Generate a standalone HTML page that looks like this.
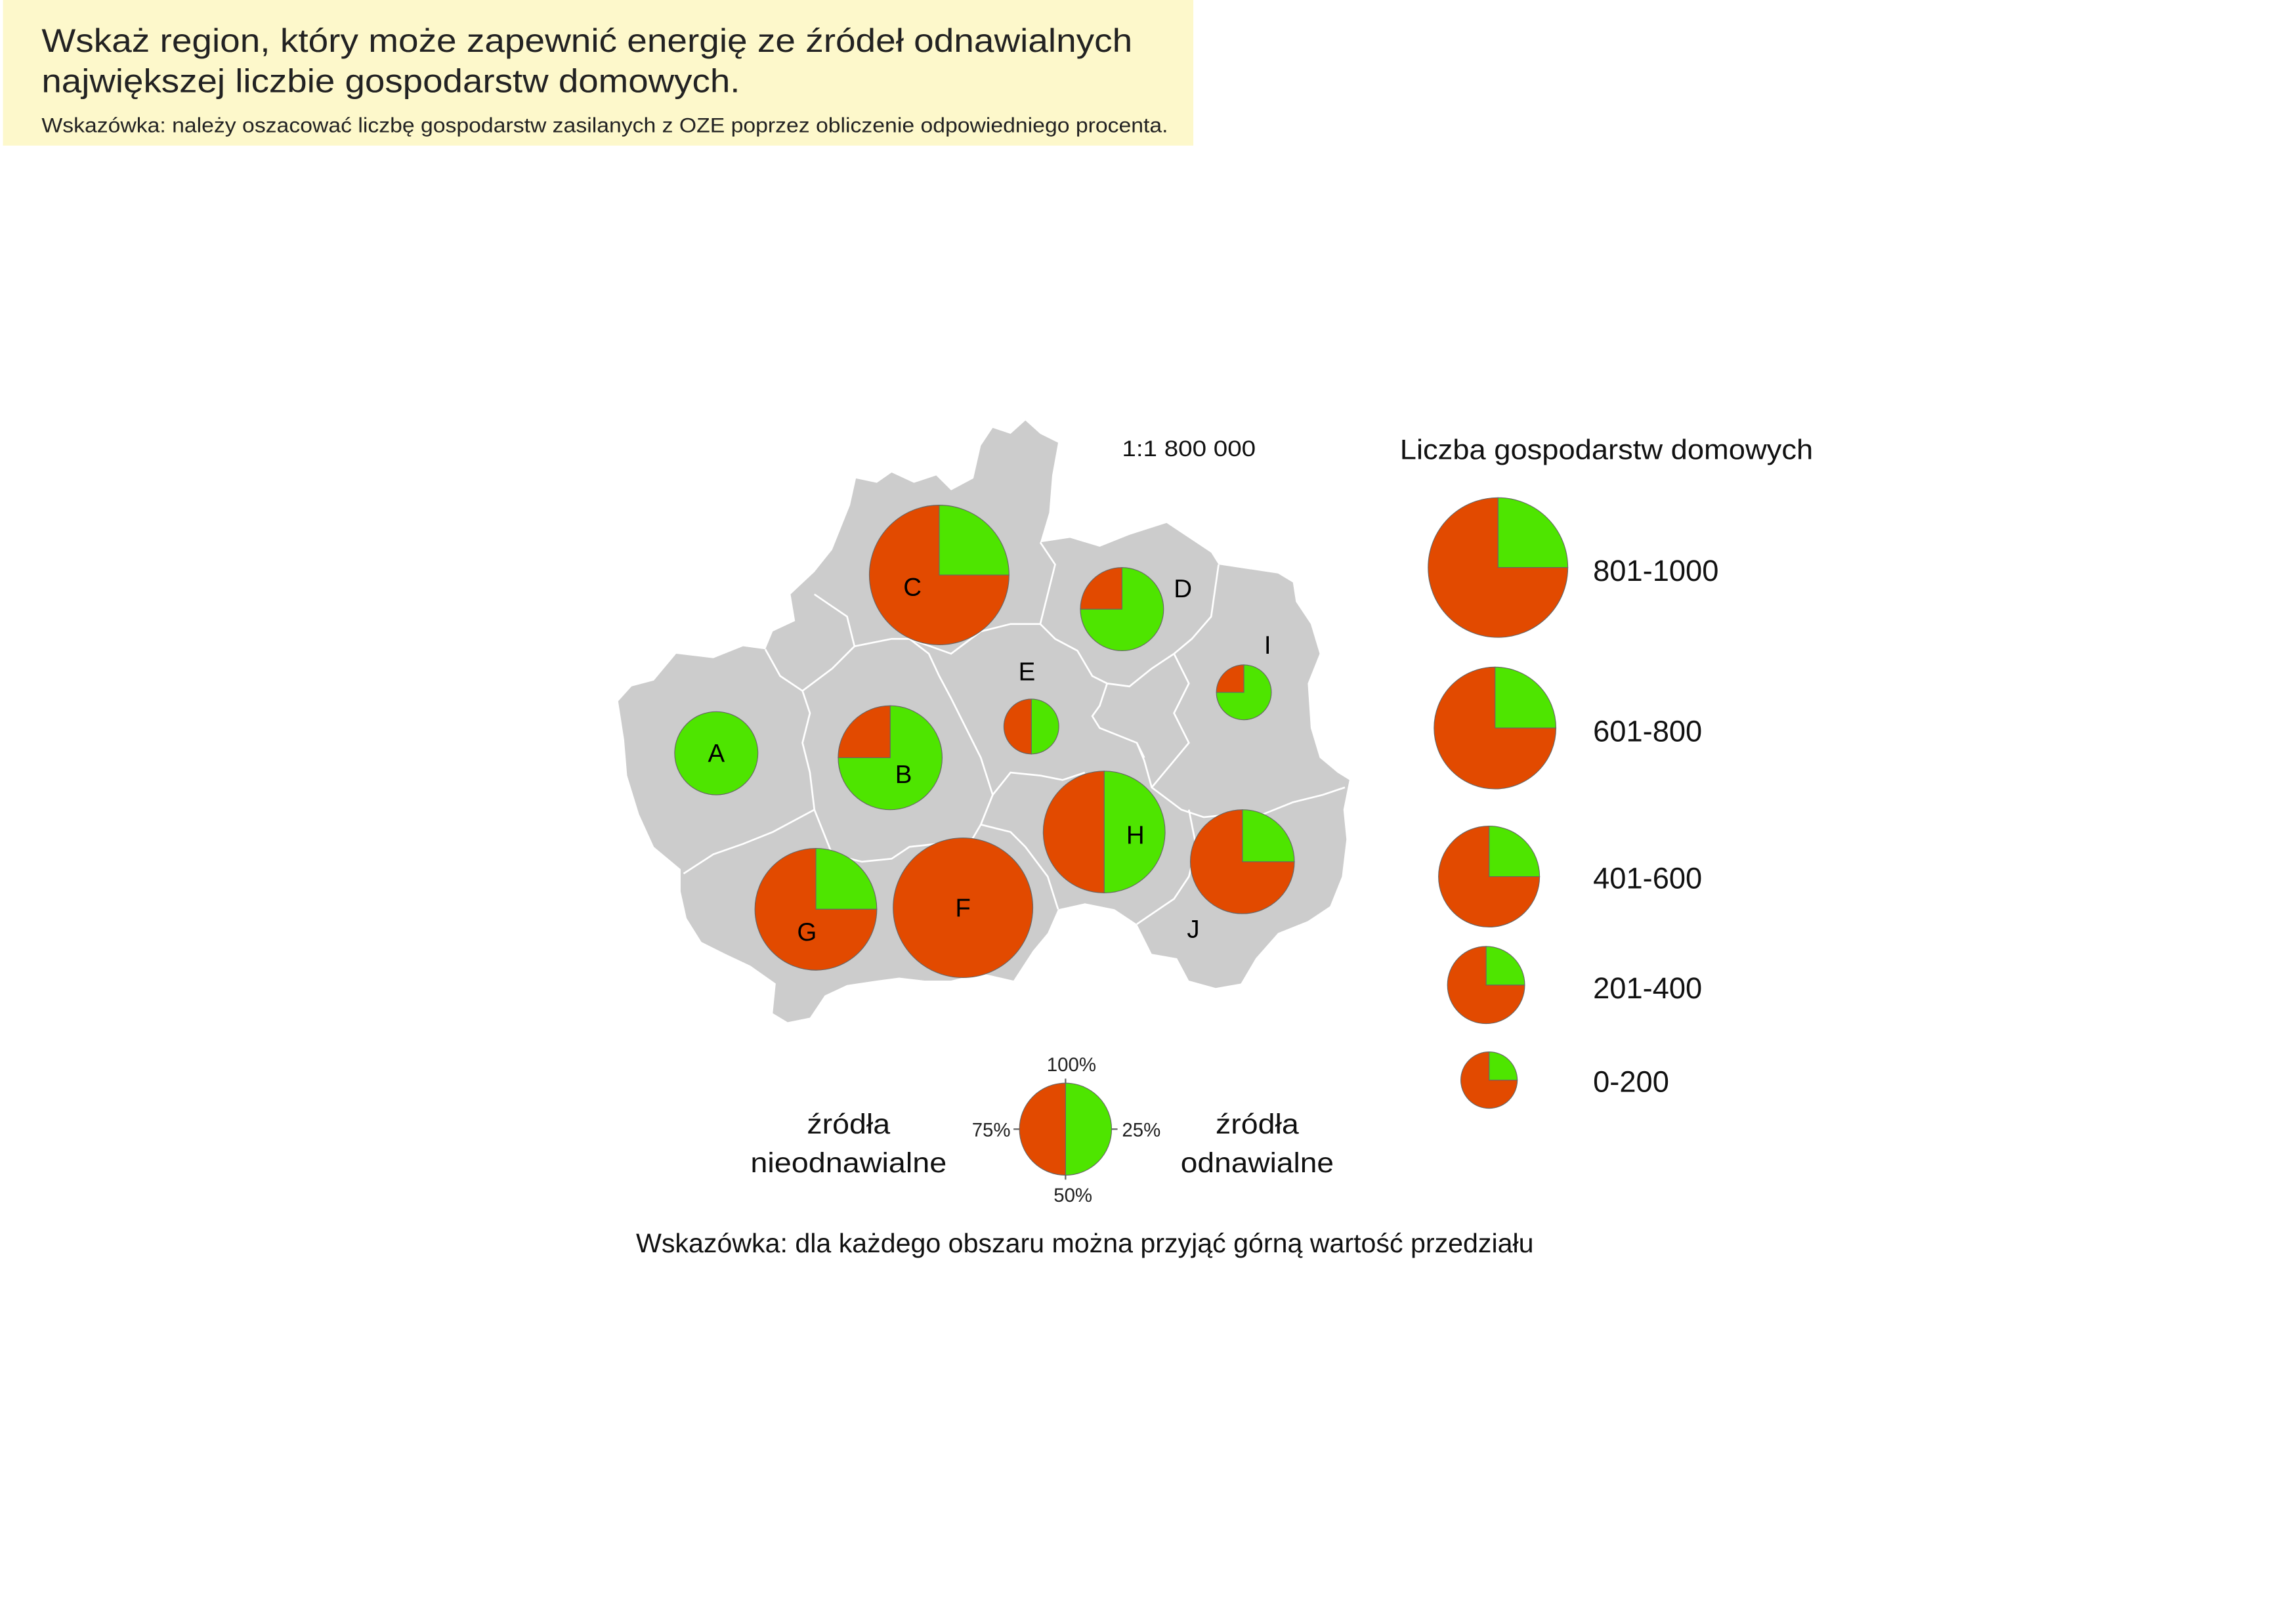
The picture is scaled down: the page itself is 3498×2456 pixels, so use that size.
<!DOCTYPE html>
<html><head><meta charset="utf-8">
<style>
html,body{margin:0;padding:0;background:#fff;}
svg{display:block;}
text{font-family:"Liberation Sans",sans-serif;}
</style></head>
<body>
<svg id="chart" width="3498" height="2456" viewBox="0 0 1545 1085" preserveAspectRatio="none" xmlns="http://www.w3.org/2000/svg">
<rect x="0" y="0" width="1545" height="1085" fill="#fff"/>
<g>
<rect x="2" y="0" width="801" height="98" fill="#fdf8cb"/>
<text x="28" y="35" font-size="22" fill="#222" textLength="734" lengthAdjust="spacingAndGlyphs">Wskaż region, który może zapewnić energię ze źródeł odnawialnych</text>
<text x="28" y="62" font-size="22" fill="#222" textLength="470" lengthAdjust="spacingAndGlyphs">największej liczbie gospodarstw domowych.</text>
<text x="28" y="89" font-size="14" fill="#222" textLength="758" lengthAdjust="spacingAndGlyphs">Wskazówka: należy oszacować liczbę gospodarstw zasilanych z OZE poprzez obliczenie odpowiedniego procenta.</text>
</g>
<g>
<path fill="#cccccc" d="M416,472 L425,462 L440,458 L455,440 L480,443 L500,435 L515,437 L520,425 L535,418 L532,400 L548,385 L560,370 L572,340 L576,322 L590,325 L600,318 L615,325 L630,320 L640,330 L655,322 L660,300 L668,288 L680,292 L690,283 L700,292 L712,298 L708,320 L706,345 L700,365 L720,362 L740,368 L760,360 L785,352 L800,362 L815,372 L820,380 L840,383 L860,386 L870,392 L872,405 L882,420 L888,440 L880,460 L882,490 L888,510 L900,520 L908,525 L904,545 L906,565 L903,590 L895,610 L880,620 L860,628 L845,645 L835,662 L818,665 L800,660 L792,645 L775,642 L765,622 L750,612 L730,608 L712,612 L705,628 L695,640 L682,660 L660,655 L640,660 L622,660 L605,658 L590,660 L570,663 L555,670 L545,685 L530,688 L520,682 L522,662 L505,650 L488,642 L472,634 L462,618 L458,600 L458,585 L440,570 L430,548 L422,522 L420,498 Z"/>
<g fill="none" stroke="#fff" stroke-width="1.2">
<path d="M515,437 L525,455 L540,465 L545,480 L540,500 L545,520 L548,545 L520,560 L500,568 L480,575 L460,588"/>
<path d="M540,465 L560,450 L575,435 L600,430 L612,430 L625,440 L632,455 L640,470 L650,490 L660,510 L668,535 L660,555 L650,572 L630,568 L612,570 L600,578 L580,580 L560,575 L548,545"/>
<path d="M575,435 L570,415 L548,400 M612,430 L640,440 L660,425 L680,420 L700,420 L710,430 L725,438 L735,455 L745,460 L760,462 L775,450 L790,440 L802,430 L815,415 L820,380"/>
<path d="M700,365 L710,380 L705,400 L700,420"/>
<path d="M745,460 L740,475 L735,482 L740,490 L765,500 L770,512 L775,530 L795,545 L810,550 L830,548 L850,548 L870,540 L890,535 L905,530"/>
<path d="M765,500 L770,510 M790,440 L800,460 L790,480 L800,500 L775,530"/>
<path d="M668,535 L680,520 L700,522 L715,525 L730,520 M660,555 L680,560 L690,570 L705,590 L712,612"/>
<path d="M800,545 L805,570 L800,590 L790,605 L765,622"/>
<path d="M560,575 L548,590 L530,598"/>
</g>
</g>
<g id="pies"></g>
<text x="800" y="307" font-size="15" text-anchor="middle" fill="#111" textLength="90" lengthAdjust="spacingAndGlyphs">1:1 800 000</text>
<g id="legend">
<text x="942" y="309" font-size="19" fill="#111" textLength="278" lengthAdjust="spacingAndGlyphs">Liczba gospodarstw domowych</text>
</g>
<g id="keypie">
<text x="721" y="721" font-size="13" text-anchor="middle" fill="#222">100%</text>
<text x="755" y="765" font-size="13" fill="#222">25%</text>
<text x="722" y="809" font-size="13" text-anchor="middle" fill="#222">50%</text>
<text x="680" y="765" font-size="13" text-anchor="end" fill="#222">75%</text>
<text x="571" y="763" font-size="19" text-anchor="middle" fill="#111" textLength="56" lengthAdjust="spacingAndGlyphs">źródła</text>
<text x="571" y="789" font-size="19" text-anchor="middle" fill="#111" textLength="132" lengthAdjust="spacingAndGlyphs">nieodnawialne</text>
<text x="846" y="763" font-size="19" text-anchor="middle" fill="#111" textLength="56" lengthAdjust="spacingAndGlyphs">źródła</text>
<text x="846" y="789" font-size="19" text-anchor="middle" fill="#111" textLength="103" lengthAdjust="spacingAndGlyphs">odnawialne</text>
</g>
<text x="730" y="843" font-size="18" text-anchor="middle" fill="#111" textLength="604" lengthAdjust="spacingAndGlyphs">Wskazówka: dla każdego obszaru można przyjąć górną wartość przedziału</text>
</svg>
<script>
const regions = ["A","B","C","D","E","F","G","H","I","J"];
const greenPct = [100,75,25,75,50,0,25,50,75,25];
const sizeClass = [1,2,4,1,0,4,3,3,0,2];
const classLabels = ["0-200","201-400","401-600","601-800","801-1000"];
const legendGreenPct = [25,25,25,25,25];
const keyGreenPct = 50;

const NS = "http://www.w3.org/2000/svg";
const RED = "#e24a00", GREEN = "#4ee500";
const centers = [[482,507],[599,510],[632,387],[755,410],[694,489],[648,611],[549,612],[743,560],[837,466],[836,580]];
const labelPos = [[482,513],[608,527],[614,401],[796,402],[691,458],[648,617],[543,633],[764,568],[853,440],[803,631]];
function rScale(c){ return [18.5,28,35,41,47][c]; }
function pt(cx,cy,r,f){ const a=2*Math.PI*f; return [cx+r*Math.sin(a), cy-r*Math.cos(a)]; }
function drawPie(parent, cx, cy, r, pct, name){
  const g = document.createElementNS(NS,"g");
  
  
  const f = pct/100;
  function sector(f0,f1,color,nm){
    let el;
    if (f1-f0 >= 0.9999){ el=document.createElementNS(NS,"circle"); el.setAttribute("cx",cx); el.setAttribute("cy",cy); el.setAttribute("r",r); }
    else { const p0=pt(cx,cy,r,f0), p1=pt(cx,cy,r,f1); const large=(f1-f0)>0.5?1:0;
      el=document.createElementNS(NS,"path");
      el.setAttribute("d",`M${cx},${cy} L${p0[0]},${p0[1]} A${r},${r} 0 ${large} 1 ${p1[0]},${p1[1]} Z`); }
    el.setAttribute("fill",color); el.setAttribute("stroke","#666"); el.setAttribute("stroke-width","0.5");
    
    
    g.appendChild(el);
  }
  if (f>0) sector(0,f,GREEN,name+"-renewable");
  if (f<1) sector(f,1,RED,name+"-nonrenewable");
  parent.appendChild(g);
  return g;
}
const pies = document.getElementById("pies");
regions.forEach((rg,i)=>{
  drawPie(pies, centers[i][0], centers[i][1], rScale(sizeClass[i]), greenPct[i], "pie-"+rg.toLowerCase());
  const t=document.createElementNS(NS,"text");
  t.setAttribute("x",labelPos[i][0]); t.setAttribute("y",labelPos[i][1]);
  t.setAttribute("font-size","17"); t.setAttribute("text-anchor","middle"); t.setAttribute("fill","#000");
  
  
  t.textContent=rg; pies.appendChild(t);
});
const legend = document.getElementById("legend");
const legCenters=[[1002,727],[1000,663],[1002,590],[1006,490],[1008,382]];
const legLabelY=[735,672,598,499,391];
classLabels.forEach((lab,c)=>{
  drawPie(legend, legCenters[c][0], legCenters[c][1], [19,26,34,41,47][c], legendGreenPct[c], "legend-pie-"+c);
  const t=document.createElementNS(NS,"text");
  t.setAttribute("x",1072); t.setAttribute("y",legLabelY[c]);
  t.setAttribute("font-size","20"); t.setAttribute("fill","#111");
  
  
  t.textContent=lab; legend.appendChild(t);
});
const key=document.getElementById("keypie");
drawPie(key,717,760,31,keyGreenPct,"key-pie");
[[717,726,717,729],[748,760,752,760],[717,791,717,794],[686,760,682,760]].forEach((l,i)=>{
  const ln=document.createElementNS(NS,"line");
  ln.setAttribute("x1",l[0]);ln.setAttribute("y1",l[1]);ln.setAttribute("x2",l[2]);ln.setAttribute("y2",l[3]);
  ln.setAttribute("stroke","#666");ln.setAttribute("stroke-width","1");
  
  
  key.appendChild(ln);
});
</script>
</body></html>
